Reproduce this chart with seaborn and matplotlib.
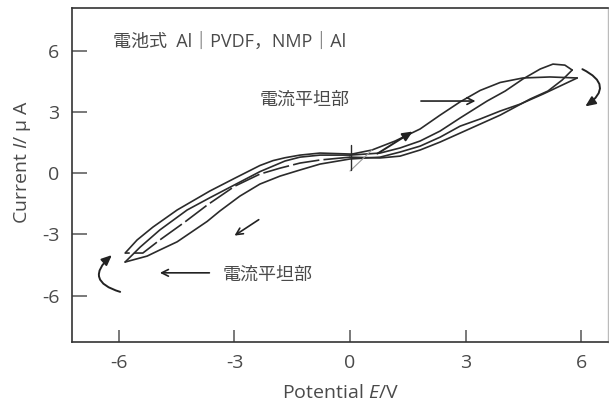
import numpy as np
import pandas as pd
import seaborn as sns
import matplotlib.pyplot as plt

# ---- data (E in V, I in uA) ----
# forward sweep A : 0 V -> +6 V, ends on the flat top
e_fwd_a_pos = [0.05, 0.57, 1.17, 1.82, 2.34, 2.86, 3.38, 3.90, 4.49, 5.19, 5.90]
i_fwd_a_pos = [0.94, 1.14, 1.58, 2.17, 2.85, 3.50, 4.06, 4.45, 4.67, 4.72, 4.67]

# reverse sweep A : +6 V -> -6 V (lowest branch on the left)
e_rev_a = [5.90, 5.45, 5.01, 4.42, 3.90, 3.38, 2.86, 2.34, 1.82, 1.30, 0.78, 0.00,
           -0.78, -1.30, -1.82, -2.34, -2.86, -3.38, -3.71, -4.49, -4.94, -5.27, -5.84]
i_rev_a = [4.67, 4.27, 3.88, 3.39, 3.05, 2.66, 2.31, 1.77, 1.33, 1.04, 0.79, 0.70,
           0.45, 0.16, -0.14, -0.53, -1.12, -1.85, -2.36, -3.36, -3.76, -4.06, -4.35]

# forward sweep B : -6 V -> 0 V
e_fwd_b_neg = [-5.84, -5.45, -4.94, -4.23, -3.64, -2.99, -2.34, -1.69, -1.30, -0.78, 0.00]
i_fwd_b_neg = [-4.35, -3.62, -2.78, -1.80, -1.20, -0.56, 0.08, 0.60, 0.79, 0.89, 0.89]

# forward sweep B : 0 V -> +6 V, passes the current peak
e_fwd_b_pos = [0.00, 0.78, 1.30, 1.82, 2.34, 2.86, 3.56, 4.03, 4.49, 4.94, 5.27, 5.58, 5.77]
i_fwd_b_pos = [0.89, 0.99, 1.24, 1.58, 2.07, 2.71, 3.54, 4.03, 4.62, 5.11, 5.35, 5.30, 5.06]

# reverse sweep B : +6 V -> 0 V
e_rev_b_pos = [5.77, 5.51, 5.14, 4.68, 3.90, 3.38, 2.86, 2.34, 1.82, 1.30, 0.78, 0.00]
i_rev_b_pos = [5.06, 4.57, 4.03, 3.64, 2.85, 2.41, 1.97, 1.53, 1.14, 0.84, 0.75, 0.79]

# reverse sweep B : 0 V -> -6 V (broken middle trace)
e_rev_b_neg = [0.00, -0.78, -1.30, -1.82, -2.34, -2.99, -3.71, -4.29, -4.94, -5.38, -5.84]
i_rev_b_neg = [0.79, 0.65, 0.50, 0.25, -0.04, -0.63, -1.56, -2.39, -3.27, -3.91, -3.91]

# forward sweep A : -6 V -> 0 V (upper branch on the left)
e_fwd_a_neg = [-5.84, -5.53, -5.12, -4.49, -3.64, -2.99, -2.34, -2.00, -1.69, -1.30, -0.78, 0.05]
i_fwd_a_neg = [-3.91, -3.27, -2.64, -1.80, -0.87, -0.24, 0.38, 0.62, 0.76, 0.89, 0.99, 0.94]

# first few points of the scan (thin grey) and the start marker
e_start = [0.00, 0.57]
i_start = [0.11, 1.14]
e_mark = [0.03, 0.03]
i_mark = [0.15, 1.38]

xticks = [-6, -3, 0, 3, 6]
yticks = [-6, -3, 0, 3, 6]
cell_label = "電池式  Al｜PVDF，NMP｜Al"
plateau_label = "電流平坦部"

sns.set_style("ticks")
plt.rcParams["font.family"] = ["Open Sans", "Noto Sans CJK JP", "DejaVu Sans"]
plt.rcParams["mathtext.fontset"] = "custom"
plt.rcParams["mathtext.rm"] = "Open Sans"
plt.rcParams["mathtext.it"] = "Open Sans:italic"

fig = plt.figure(figsize=(6.09, 4.03), dpi=100)
ax = fig.add_axes([72/609, 61/403, 536/609, 334/403])

line_col = "#2b2b2b"
text_col = "#4a4a4a"

solid = [(e_fwd_a_pos, i_fwd_a_pos), (e_rev_a, i_rev_a), (e_fwd_b_neg, i_fwd_b_neg),
         (e_fwd_b_pos, i_fwd_b_pos), (e_rev_b_pos, i_rev_b_pos), (e_fwd_a_neg, i_fwd_a_neg)]
for e, i in solid:
    sns.lineplot(x=e, y=i, sort=False, estimator=None, color=line_col, lw=1.2, ax=ax)

sns.lineplot(x=e_rev_b_neg, y=i_rev_b_neg, sort=False, estimator=None, color=line_col,
             lw=1.2, ax=ax)
ax.lines[-1].set_dashes([16, 2.5])
sns.lineplot(x=e_start, y=i_start, sort=False, estimator=None, color="#999999", lw=0.8, ax=ax)
sns.lineplot(x=e_mark, y=i_mark, sort=False, estimator=None, color=line_col, lw=1.0, ax=ax)

ax.set_xlim(-7.22, 6.70)
ax.set_ylim(-8.27, 8.10)
ax.set_xticks(xticks, labels=[str(t) for t in xticks])
ax.set_yticks(yticks, labels=[str(t) for t in yticks])
ax.tick_params(axis="x", direction="in", length=9, width=1.1, color="#555555",
               labelsize=14, labelcolor=text_col, pad=9)
ax.tick_params(axis="y", direction="in", length=11, width=1.1, color="#555555",
               labelsize=14, labelcolor=text_col, pad=9)

for side in ["left", "bottom", "top"]:
    ax.spines[side].set_color("#333333")
    ax.spines[side].set_linewidth(1.2)
ax.spines["right"].set_color("#bbbbbb")
ax.spines["right"].set_linewidth(1.0)

ax.set_xlabel("Potential $E$/V", fontsize=14, color=text_col, labelpad=8)
ax.set_ylabel("Current $I$/ μ A", fontsize=14, color=text_col)
ax.yaxis.set_label_coords(-0.072, 0.54)

ax.text(-6.16, 6.43, cell_label, ha="left", va="center", fontsize=13, color=text_col)
ax.text(-2.34, 3.59, plateau_label, ha="left", va="center", fontsize=13, color=text_col)
ax.text(-3.30, -4.99, plateau_label, ha="left", va="center", fontsize=13, color=text_col)

arrow_kw = dict(arrowstyle="->", lw=1.2, color="#222222", mutation_scale=12)
ax.annotate("", xy=(3.33, 3.54), xytext=(1.77, 3.54), arrowprops=arrow_kw)
ax.annotate("", xy=(-5.01, -4.88), xytext=(-3.58, -4.88), arrowprops=arrow_kw)
ax.annotate("", xy=(-3.06, -3.13), xytext=(-2.31, -2.20), arrowprops=arrow_kw)

head_kw = dict(arrowstyle="-|>,head_length=0.5,head_width=0.22", lw=1.4,
               color="#222222", mutation_scale=12)
ax.annotate("", xy=(1.69, 2.12), xytext=(0.65, 0.89), arrowprops=head_kw)
ax.annotate("", xy=(6.05, 3.20), xytext=(5.97, 5.16),
            arrowprops=dict(head_kw, connectionstyle="arc3,rad=-0.9"))
ax.annotate("", xy=(-6.13, -3.92), xytext=(-5.90, -5.85),
            arrowprops=dict(head_kw, connectionstyle="arc3,rad=-0.95"))

plt.savefig("out.png", dpi=100)
